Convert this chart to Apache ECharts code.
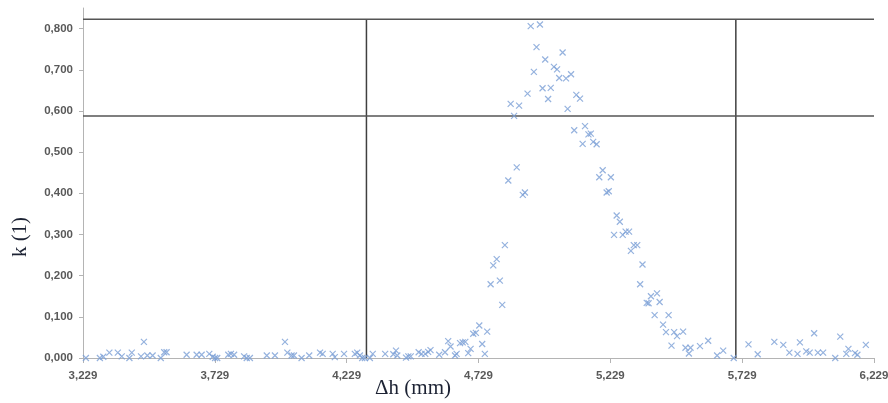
<!DOCTYPE html>
<html>
<head>
<meta charset="utf-8">
<script src="https://cdn.jsdelivr.net/npm/echarts@6/dist/echarts.min.js"></script>
<style>
  html, body { margin: 0; padding: 0; background: #fff; }
  #chart { width: 888px; height: 403px; }
</style>
</head>
<body>
<div id="chart"></div>
<script>
// measured points: Δh (mm) and k (1)
var dh = [
  3.240, 3.293, 3.306, 3.329, 3.361, 3.376, 3.405, 3.414, 3.449, 3.460,
  3.473, 3.493, 3.524, 3.537, 3.546, 3.622, 3.660, 3.679, 3.708, 3.721,
  3.730, 3.738, 3.780, 3.790, 3.802, 3.840, 3.850, 3.862, 3.926, 3.957,
  3.995, 4.004, 4.020, 4.029, 4.058, 4.087, 4.128, 4.138, 4.176, 4.184,
  4.219, 4.260, 4.269, 4.279, 4.288, 4.298, 4.317, 4.328, 4.375, 4.406,
  4.416, 4.421, 4.454, 4.463, 4.472, 4.502, 4.513, 4.527, 4.538, 4.547,
  4.580, 4.602, 4.614, 4.623, 4.640, 4.646, 4.659, 4.669, 4.679, 4.690,
  4.699, 4.709, 4.719, 4.732, 4.743, 4.753, 4.762, 4.775, 4.785, 4.798,
  4.810, 4.819, 4.829, 4.842, 4.851, 4.864, 4.874, 4.883, 4.897, 4.905,
  4.915, 4.927, 4.939, 4.949, 4.962, 4.972, 4.982, 4.993, 5.003, 5.015,
  5.027, 5.035, 5.048, 5.061, 5.067, 5.080, 5.092, 5.100, 5.114, 5.124,
  5.133, 5.146, 5.155, 5.164, 5.177, 5.187, 5.200, 5.215, 5.223, 5.231,
  5.243, 5.253, 5.265, 5.276, 5.287, 5.300, 5.307, 5.318, 5.331, 5.342,
  5.351, 5.367, 5.374, 5.383, 5.397, 5.406, 5.416, 5.429, 5.440, 5.450,
  5.461, 5.471, 5.482, 5.505, 5.514, 5.527, 5.533, 5.569, 5.600, 5.634,
  5.657, 5.697, 5.753, 5.788, 5.851, 5.885, 5.908, 5.939, 5.948, 5.972,
  5.985, 6.002, 6.016, 6.036, 6.082, 6.101, 6.124, 6.132, 6.157, 6.166,
  6.198
]
var k = [
  0.000, 0.000, 0.003, 0.013, 0.013, 0.004, 0.000, 0.013, 0.004, 0.039,
  0.006, 0.006, 0.000, 0.014, 0.014, 0.008, 0.008, 0.008, 0.010, 0.003,
  0.000, 0.000, 0.008, 0.010, 0.008, 0.004, 0.000, 0.000, 0.006, 0.006,
  0.039, 0.013, 0.006, 0.006, 0.000, 0.006, 0.013, 0.010, 0.010, 0.002,
  0.010, 0.010, 0.013, 0.006, 0.000, 0.000, 0.000, 0.010, 0.010, 0.009,
  0.018, 0.006, 0.001, 0.004, 0.004, 0.014, 0.010, 0.010, 0.015, 0.019,
  0.008, 0.014, 0.041, 0.028, 0.006, 0.010, 0.036, 0.038, 0.039, 0.012,
  0.022, 0.059, 0.061, 0.079, 0.034, 0.010, 0.064, 0.179, 0.225, 0.240,
  0.188, 0.129, 0.274, 0.431, 0.617, 0.588, 0.463, 0.613, 0.396, 0.402,
  0.642, 0.806, 0.695, 0.755, 0.810, 0.655, 0.725, 0.629, 0.656, 0.707,
  0.701, 0.680, 0.742, 0.679, 0.605, 0.689, 0.553, 0.639, 0.630, 0.520,
  0.563, 0.543, 0.545, 0.525, 0.519, 0.439, 0.456, 0.402, 0.405, 0.439,
  0.299, 0.346, 0.331, 0.299, 0.307, 0.307, 0.260, 0.274, 0.274, 0.179,
  0.227, 0.134, 0.133, 0.150, 0.104, 0.157, 0.136, 0.081, 0.063, 0.104,
  0.030, 0.063, 0.053, 0.064, 0.025, 0.011, 0.025, 0.029, 0.042, 0.006,
  0.018, 0.000, 0.033, 0.009, 0.039, 0.032, 0.013, 0.010, 0.038, 0.016,
  0.013, 0.060, 0.013, 0.013, 0.000, 0.052, 0.010, 0.022, 0.012, 0.008,
  0.032
]
// tick labels
var xTicks = [3.229, 3.729, 4.229, 4.729, 5.229, 5.729, 6.229]
var yTicks = [0, 0.1, 0.2, 0.3, 0.4, 0.5, 0.6, 0.7, 0.8]
// reference lines
var vLines = [4.304, 5.705]
var hLines = [0.8225, 0.5875]
var vTop = 0.8225

var chart = echarts.init(document.getElementById('chart'))

function fmt(v) {
  return v.toFixed(3).replace('.', ',')
}

var points = dh.map(function (x, i) { return [x, k[i]] })

var series = [{
  type: 'scatter',
  data: points,
  symbol: 'path://M0,0L10,10M10,0L0,10',
  symbolSize: 6,
  itemStyle: {
    color: 'transparent',
    borderColor: '#7b9fd6',
    borderWidth: 1.2
  },
  z: 3
}]

vLines.forEach(function (x) {
  series.push({
    type: 'line',
    data: [[x, 0], [x, vTop]],
    symbol: 'none',
    lineStyle: { color: '#404040', width: 1.5 },
    silent: true,
    z: 2
  })
})
hLines.forEach(function (y) {
  series.push({
    type: 'line',
    data: [[xTicks[0], y], [xTicks[xTicks.length - 1], y]],
    symbol: 'none',
    lineStyle: { color: '#555', width: 1.5 },
    silent: true,
    z: 2
  })
})

var option = {
  animation: false,
  grid: { left: 83, right: 14, top: 8, bottom: 45, outerBoundsMode: 'none', containLabel: false },
  xAxis: {
    type: 'value',
    min: 3.229,
    max: 6.229,
    name: 'Δh (mm)',
    nameLocation: 'middle',
    nameGap: 20,
    nameMoveOverlap: false,
    nameTextStyle: {
      fontFamily: 'Liberation Serif',
      fontSize: 21,
      color: '#1c2233',
      padding: [0, 131, 0, 0]
    },
    axisLine: { lineStyle: { color: '#b4b4b4', width: 1 } },
    axisTick: { show: true, length: 5, customValues: xTicks, lineStyle: { color: '#b4b4b4' } },
    axisLabel: {
      customValues: xTicks,
      formatter: fmt,
      margin: 12,
      fontFamily: 'Liberation Sans',
      fontWeight: 'bold',
      fontSize: 11.5,
      color: '#595959'
    },
    splitLine: { show: false }
  },
  yAxis: {
    type: 'value',
    min: 0,
    max: 0.85,
    name: 'k (1)',
    nameLocation: 'middle',
    nameGap: 52,
    nameTextStyle: {
      fontFamily: 'Liberation Serif',
      fontSize: 21,
      color: '#1c2233',
      padding: [0, 108, 0, 0]
    },
    axisLine: { show: true, lineStyle: { color: '#b4b4b4', width: 1 } },
    axisTick: { show: true, length: 4, customValues: yTicks, lineStyle: { color: '#b4b4b4' } },
    axisLabel: {
      customValues: yTicks,
      formatter: fmt,
      margin: 10,
      fontFamily: 'Liberation Sans',
      fontWeight: 'bold',
      fontSize: 11.5,
      color: '#595959'
    },
    splitLine: { show: false }
  },
  series: series
}

chart.setOption(option)
</script>
</body>
</html>
